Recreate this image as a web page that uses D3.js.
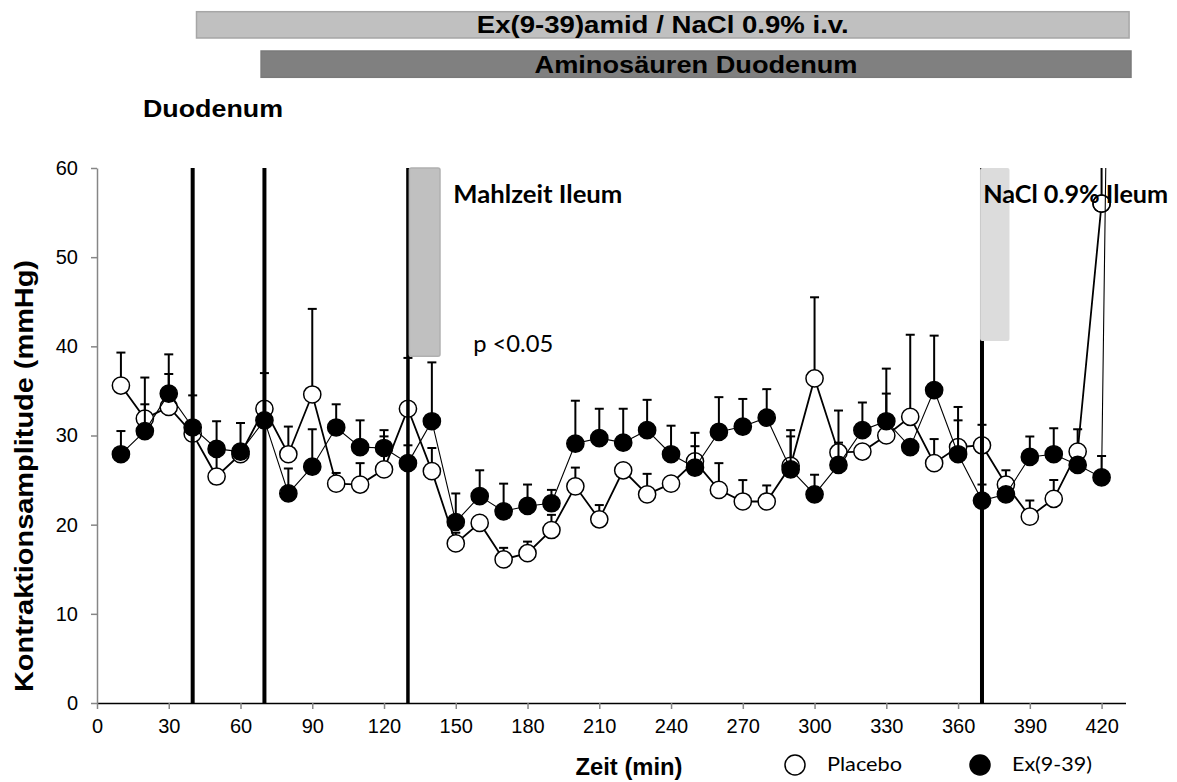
<!DOCTYPE html>
<html>
<head>
<meta charset="utf-8">
<script src="https://cdn.jsdelivr.net/npm/d3@7"></script>
<style>
  body { margin: 0; background: #fff; }
  svg { display: block; }
</style>
</head>
<body>
<div id="chart"></div>
<script>
// Zeitpunkte (min) und Mittelwerte
const times = [10, 20, 30, 40, 50, 60, 70, 80, 90, 100, 110, 120, 130, 140, 150, 160, 170, 180, 190, 200,
  210, 220, 230, 240, 250, 260, 270, 280, 290, 300, 310, 320, 330, 340, 350, 360, 370, 380, 390, 400, 410, 420];

const placebo = [35.6, 31.9, 33.2, 30.2, 25.4, 27.9, 33.0, 27.9, 34.6, 24.6, 24.5, 26.2, 33.0, 26.0, 17.9, 20.2,
  16.1, 16.8, 19.4, 24.3, 20.6, 26.1, 23.4, 24.6, 27.1, 23.9, 22.6, 22.6, 26.6, 36.4, 28.1, 28.2, 30.0, 32.1,
  26.9, 28.7, 28.9, 24.5, 20.9, 22.9, 28.2, 56.0];
const placeboSem = [3.7, 4.6, 3.7, 0, 2.9, 0, 4.0, 3.1, 9.6, 1.2, 2.4, 3.7, 5.7, 2.6, 1.2, 0, 1.3, 1.3, 1.7, 2.1,
  1.6, 0, 2.3, 0, 3.2, 3.0, 2.4, 1.8, 4.0, 9.1, 4.7, 0, 4.7, 9.2, 2.7, 4.5, 2.3, 1.6, 1.8, 2.1, 2.5, 19.0];

const exendin = [27.9, 30.5, 34.7, 30.9, 28.5, 28.2, 31.7, 23.5, 26.5, 30.9, 28.7, 28.6, 26.9, 31.6, 20.3, 23.2,
  21.5, 22.1, 22.4, 29.1, 29.7, 29.2, 30.6, 27.9, 26.4, 30.4, 31.0, 32.0, 26.2, 23.4, 26.7, 30.6, 31.6, 28.7,
  35.1, 27.9, 22.7, 23.4, 27.6, 27.9, 26.7, 25.3];
const exendinSem = [2.6, 3.0, 4.4, 3.6, 3.1, 3.2, 0, 2.8, 4.2, 2.6, 3.0, 2.0, 2.0, 6.6, 3.2, 2.9, 3.1, 2.4, 1.5, 4.8,
  3.3, 3.8, 3.4, 3.2, 2.4, 3.9, 3.1, 3.2, 3.7, 2.2, 2.5, 3.1, 5.9, 0, 6.1, 3.8, 1.8, 0, 2.3, 2.9, 0, 2.4];
// letzter Ex-Abschnitt läuft über den Diagrammrand hinaus
const exendinTail = [[420, 25.3], [421.8, 61]];

const xTicks = [0, 30, 60, 90, 120, 150, 180, 210, 240, 270, 300, 330, 360, 390, 420];
const yTicks = [0, 10, 20, 30, 40, 50, 60];

// Interventionen (senkrechte Linien) und Zeitfenster
const eventTimes = [40, 70, 130, 370];
const infusionBoxes = [
  { t0: 130.6, t1: 143.4, v0: 38.9, v1: 60 },   // Mahlzeit Ileum
  { t0: 369.2, t1: 381.5, v0: 40.6, v1: 60 }    // NaCl 0.9% Ileum
];
const annotations = [
  { text: 'Mahlzeit Ileum', t: 149, v: 56.1 },
  { text: 'NaCl 0.9% Ileum', t: 370.5, v: 56.1 },
  { text: 'p <0.05', t: 157.3, v: 39.4 }
];
const topBars = [
  { label: 'Ex(9-39)amid / NaCl 0.9% i.v.', t0: 41.6, t1: 431.5 },
  { label: 'Aminosäuren Duodenum', t0: 68.6, t1: 432.3 }
];

const width = 1177, height = 782;
const arial = 'Arial, "Liberation Sans", sans-serif';
const calibri = 'Lato, "Open Sans", sans-serif';

const svg = d3.select('#chart').append('svg')
  .attr('width', width).attr('height', height);

const x = d3.scaleLinear().domain([0, 430]).range([97, 1125.5]);
const y = d3.scaleLinear().domain([0, 60]).range([703, 168]);

svg.append('defs').append('clipPath').attr('id', 'plot')
  .append('rect')
  .attr('x', x(0)).attr('y', y(60))
  .attr('width', x(430) - x(0) + 10).attr('height', y(0) - y(60));

// Balken oben
const barStyles = [
  { fill: '#c0c0c0', stroke: '#a6a6a6', len: 372 },
  { fill: '#808080', stroke: '#7a7a7a', len: 323 }
];
const barTop = [11.7, 51];
topBars.forEach((b, i) => {
  svg.append('rect')
    .attr('x', x(b.t0)).attr('y', barTop[i])
    .attr('width', x(b.t1) - x(b.t0)).attr('height', 26.3)
    .style('fill', barStyles[i].fill)
    .style('stroke', barStyles[i].stroke).style('stroke-width', 1.5);
  svg.append('text')
    .attr('x', (x(b.t0) + x(b.t1)) / 2).attr('y', barTop[i] + 21.6)
    .attr('textLength', barStyles[i].len).attr('lengthAdjust', 'spacingAndGlyphs')
    .style('font-family', arial).style('font-weight', 'bold').style('font-size', '24px')
    .style('text-anchor', 'middle')
    .text(b.label);
});

svg.append('text')
  .attr('x', 143).attr('y', 116.7)
  .attr('textLength', 140).attr('lengthAdjust', 'spacingAndGlyphs')
  .style('font-family', arial).style('font-weight', 'bold').style('font-size', '24px')
  .text('Duodenum');

// Achsen
const xAxis = svg.append('g')
  .attr('transform', `translate(0,${y(0)})`)
  .call(d3.axisBottom(x).tickValues(xTicks).tickSize(6).tickSizeOuter(0).tickPadding(10));
xAxis.select('.domain').style('stroke', '#000').style('stroke-width', 1.5);
xAxis.selectAll('.tick line').style('stroke', '#868686').style('stroke-width', 1.5);
xAxis.selectAll('.tick text')
  .style('font-family', arial).style('font-size', '20px').style('fill', '#000');

const yAxis = svg.append('g')
  .attr('transform', `translate(${x(0)},0)`)
  .call(d3.axisLeft(y).tickValues(yTicks).tickSize(6).tickSizeOuter(0).tickPadding(13));
yAxis.select('.domain').style('stroke', '#868686').style('stroke-width', 1.5);
yAxis.selectAll('.tick line').style('stroke', '#868686').style('stroke-width', 1.5);
yAxis.selectAll('.tick text')
  .style('font-family', arial).style('font-size', '20px').style('fill', '#000');

svg.append('text')
  .attr('transform', 'translate(33,476) rotate(-90)')
  .attr('textLength', 432).attr('lengthAdjust', 'spacingAndGlyphs')
  .style('font-family', arial).style('font-weight', 'bold').style('font-size', '25px')
  .style('text-anchor', 'middle')
  .text('Kontraktionsamplitude (mmHg)');

svg.append('text')
  .attr('x', 629).attr('y', 775)
  .attr('textLength', 107).attr('lengthAdjust', 'spacingAndGlyphs')
  .style('font-family', arial).style('font-weight', 'bold').style('font-size', '23px')
  .style('text-anchor', 'middle')
  .text('Zeit (min)');

// Datenreihen
const plot = svg.append('g');
const series = [
  { values: placebo, sem: placeboSem, fill: '#fff', lineWidth: 1.8 },
  { values: exendin, sem: exendinSem, fill: '#000', lineWidth: 1.1 }
];
const line = d3.line().x(d => x(d[0])).y(d => y(d[1]));

series.forEach((s, si) => {
  const pts = times.map((t, i) => [t, s.values[i], s.sem[i]]);
  const g = plot.append('g');

  g.append('path')
    .datum(si === 1 ? pts.concat([exendinTail[1]]) : pts)
    .attr('d', line)
    .attr('clip-path', 'url(#plot)')
    .style('fill', 'none').style('stroke', '#000').style('stroke-width', s.lineWidth);

  // Fehlerbalken (nur nach oben)
  const eb = g.append('g').attr('clip-path', 'url(#plot)');
  pts.forEach(p => {
    eb.append('line')
      .attr('x1', x(p[0])).attr('x2', x(p[0]))
      .attr('y1', y(p[1])).attr('y2', y(p[1] + p[2]))
      .style('stroke', '#000').style('stroke-width', 2);
    eb.append('line')
      .attr('x1', x(p[0]) - 4.5).attr('x2', x(p[0]) + 4.5)
      .attr('y1', y(p[1] + p[2])).attr('y2', y(p[1] + p[2]))
      .style('stroke', '#000').style('stroke-width', 2);
  });

  g.selectAll('circle').data(pts).join('circle')
    .attr('cx', d => x(d[0])).attr('cy', d => y(d[1])).attr('r', 8.6)
    .style('fill', s.fill).style('stroke', '#000').style('stroke-width', 1.5);
});

// senkrechte Linien
eventTimes.forEach(t => {
  svg.append('line')
    .attr('x1', x(t)).attr('x2', x(t))
    .attr('y1', y(0)).attr('y2', y(60))
    .style('stroke', '#000').style('stroke-width', t === 130 ? 3.5 : 4);
});

// graue Felder
const boxFill = ['#c0c0c0', '#dcdcdc'];
const boxStroke = ['#b0b0b0', 'none'];
infusionBoxes.forEach((b, i) => {
  svg.append('rect')
    .attr('x', x(b.t0)).attr('y', y(b.v1))
    .attr('width', x(b.t1) - x(b.t0)).attr('height', y(b.v0) - y(b.v1))
    .attr('rx', 2)
    .style('fill', boxFill[i]).style('stroke', boxStroke[i]).style('stroke-width', 1.5);
});

// Beschriftungen im Diagramm (über den Feldern)
const annoStyle = [
  { weight: 'bold', size: 25, len: 169 },
  { weight: 'bold', size: 25, len: 185 },
  { weight: 'normal', size: 23, len: 80 }
];
annotations.forEach((a, i) => {
  svg.append('text')
    .attr('x', x(a.t)).attr('y', y(a.v))
    .attr('textLength', annoStyle[i].len).attr('lengthAdjust', 'spacingAndGlyphs')
    .style('font-family', calibri).style('font-weight', annoStyle[i].weight)
    .style('font-size', annoStyle[i].size + 'px')
    .text(a.text);
});

// Placebo-Punkt bei 420 min liegt über der Beschriftung
const last = times.length - 1;
svg.append('circle')
  .attr('cx', x(times[last])).attr('cy', y(placebo[last])).attr('r', 8.6)
  .style('fill', 'none').style('stroke', '#000').style('stroke-width', 1.5);

// Legende
const legend = [
  { label: 'Placebo', cx: 795, fill: '#fff' },
  { label: 'Ex(9-39)', cx: 980, fill: '#000' }
];
const legendLen = [75, 80];
legend.forEach((l, i) => {
  svg.append('circle')
    .attr('cx', l.cx).attr('cy', 765).attr('r', 10)
    .style('fill', l.fill).style('stroke', '#000').style('stroke-width', 1.5);
  svg.append('text')
    .attr('x', l.cx + 32).attr('y', 771)
    .attr('textLength', legendLen[i]).attr('lengthAdjust', 'spacingAndGlyphs')
    .style('font-family', calibri).style('font-size', '20px')
    .text(l.label);
});
</script>
</body>
</html>
